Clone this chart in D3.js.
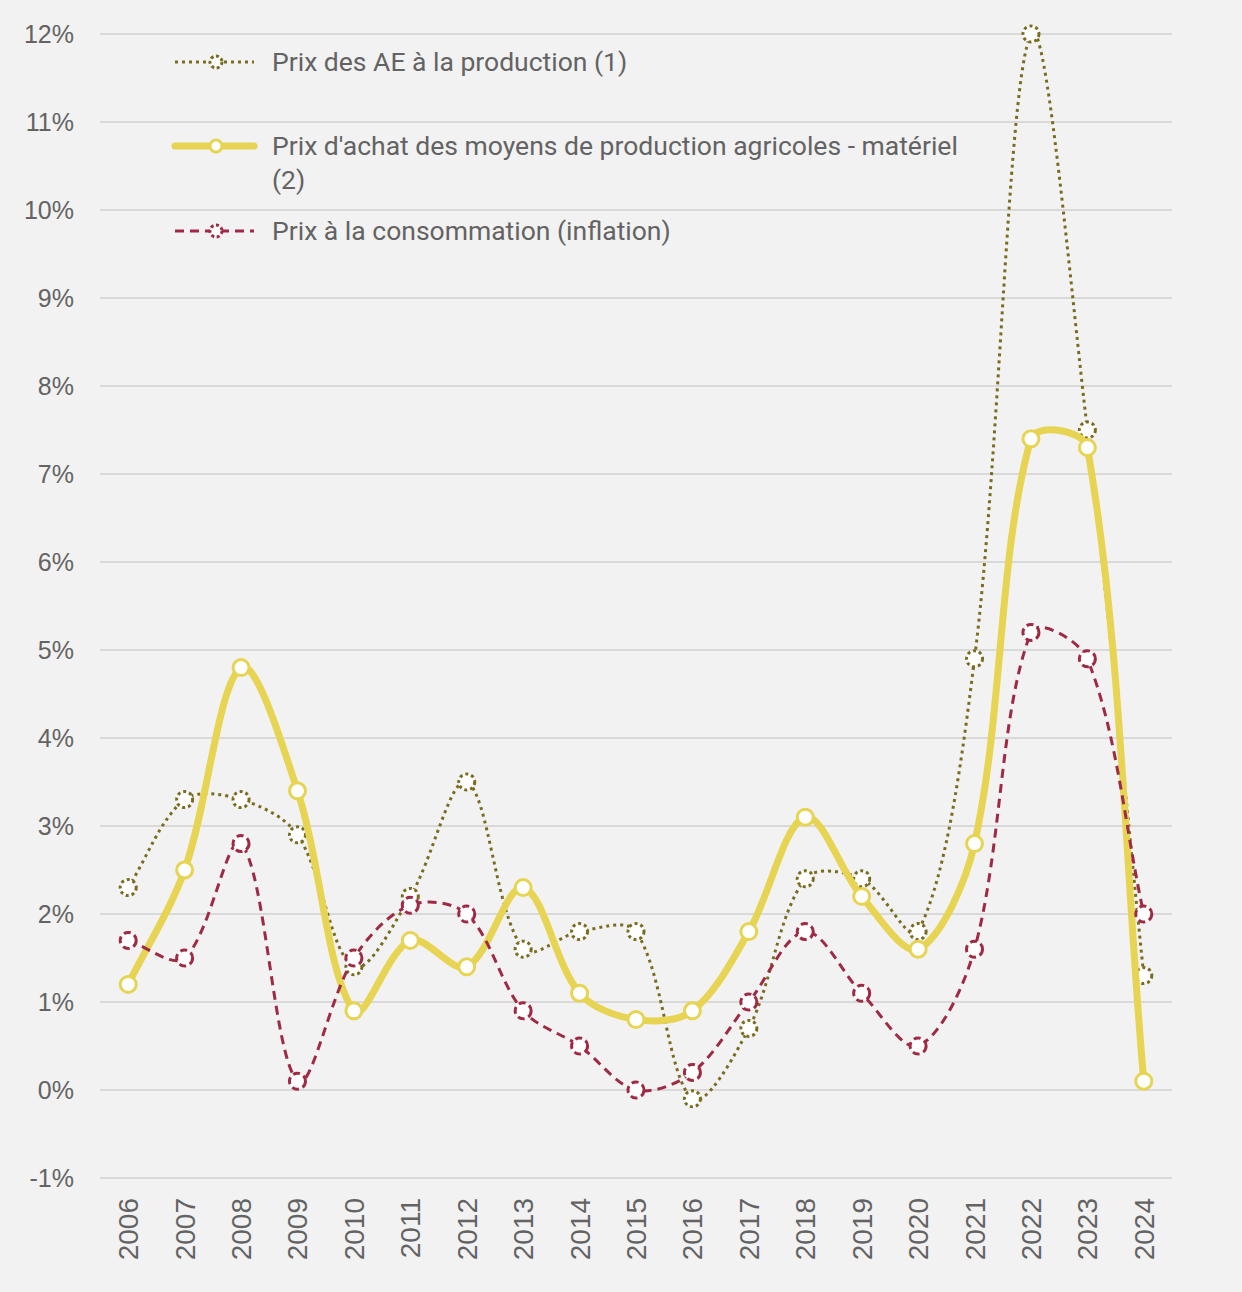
<!DOCTYPE html>
<html>
<head>
<meta charset="utf-8">
<script src="https://cdn.jsdelivr.net/npm/d3@7"></script>
<style>
  html, body { margin: 0; padding: 0; background: #f2f2f2; }
  svg { display: block; }
</style>
</head>
<body>
<div id="chart"></div>
<script>
// data (values in %)
const years = ["2006","2007","2008","2009","2010","2011","2012","2013","2014","2015",
               "2016","2017","2018","2019","2020","2021","2022","2023","2024"];
const prixAE =       [2.3, 3.3, 3.3, 2.9, 1.4, 2.2, 3.5, 1.6, 1.8, 1.8, -0.1, 0.7, 2.4, 2.4, 1.8, 4.9, 12.0, 7.5, 1.3];
const prixMateriel = [1.2, 2.5, 4.8, 3.4, 0.9, 1.7, 1.4, 2.3, 1.1, 0.8, 0.9, 1.8, 3.1, 2.2, 1.6, 2.8, 7.4, 7.3, 0.1];
const prixConso =    [1.7, 1.5, 2.8, 0.1, 1.5, 2.1, 2.0, 0.9, 0.5, 0.0, 0.2, 1.0, 1.8, 1.1, 0.5, 1.6, 5.2, 4.9, 2.0];
const yTicks = [-1,0,1,2,3,4,5,6,7,8,9,10,11,12];

const seriesNames = [
  ["Prix des AE à la production (1)"],
  ["Prix d'achat des moyens de production agricoles - matériel", "(2)"],
  ["Prix à la consommation (inflation)"]
];

const W = 1242, H = 1292;
const textColor = "#636363";

const svg = d3.select("#chart").append("svg")
  .attr("width", W).attr("height", H);

svg.append("rect").attr("width", W).attr("height", H).attr("fill", "#f2f2f2");

// scales
const x = d3.scaleBand().domain(years).range([100, 1172]);
const cx = d => x(d) + x.bandwidth() / 2;
const y = d3.scaleLinear().domain([-1, 12]).range([1178, 34]);

// gridlines
svg.append("g")
  .selectAll("line")
  .data(yTicks)
  .join("line")
    .attr("x1", 100).attr("x2", 1172)
    .attr("y1", d => y(d)).attr("y2", d => y(d))
    .attr("stroke", "#d9d9d9")
    .attr("stroke-width", 2);

// y labels
svg.append("g")
  .selectAll("text")
  .data(yTicks)
  .join("text")
    .attr("x", 74)
    .attr("y", d => y(d))
    .attr("dy", "0.35em")
    .attr("text-anchor", "end")
    .attr("font-family", "'Liberation Sans', Arial, sans-serif")
    .attr("font-size", 25)
    .attr("fill", textColor)
    .text(d => d + "%");

// x labels, rotated
svg.append("g")
  .selectAll("text")
  .data(years)
  .join("text")
    .attr("transform", d => `translate(${cx(d) + 10},1198) rotate(-90)`)
    .attr("text-anchor", "end")
    .attr("font-family", "'Liberation Sans', Arial, sans-serif")
    .attr("font-size", 28)
    .attr("fill", textColor)
    .text(d => d);

const series = [
  { values: prixAE, color: "#7a6c1f", width: 3, dash: "3,4", mDash: "3,3", mWidth: 3 },
  { values: prixMateriel, color: "#e6d452", width: 7, dash: null, mDash: null, mWidth: 3 },
  { values: prixConso, color: "#9e2a44", width: 3, dash: "9,6", mDash: "7,4", mWidth: 3 }
];

// Excel-like smoothed line: tangent from neighbours, arms weighted by segment length
function smoothPath(values) {
  const pts = values.map((v, i) => [cx(years[i]), y(v)]);
  const n = pts.length;
  const dist = (a, b) => Math.hypot(b[0] - a[0], b[1] - a[1]);
  const arms = pts.map((p, i) => {
    const prev = pts[Math.max(i - 1, 0)], next = pts[Math.min(i + 1, n - 1)];
    const tx = next[0] - prev[0], ty = next[1] - prev[1];
    const lb = dist(prev, p), lf = dist(p, next), tot = lb + lf || 1;
    return {
      back: [-tx * lb / tot / 3, -ty * lb / tot / 3],
      fwd: [tx * lf / tot / 3, ty * lf / tot / 3]
    };
  });
  const path = d3.path();
  path.moveTo(pts[0][0], pts[0][1]);
  for (let i = 0; i < n - 1; i++) {
    const a = pts[i], b = pts[i + 1];
    path.bezierCurveTo(
      a[0] + arms[i].fwd[0], a[1] + arms[i].fwd[1],
      b[0] + arms[i + 1].back[0], b[1] + arms[i + 1].back[1],
      b[0], b[1]);
  }
  return path.toString();
}

series.forEach(s => {
  svg.append("path")
    .datum(s.values)
    .attr("fill", "none")
    .attr("stroke", s.color)
    .attr("stroke-width", s.width)
    .attr("stroke-linecap", s.dash ? "butt" : "round")
    .attr("stroke-dasharray", s.dash)
    .attr("d", smoothPath);

  svg.append("g")
    .selectAll("circle")
    .data(s.values)
    .join("circle")
      .attr("cx", (d, i) => cx(years[i]))
      .attr("cy", d => y(d))
      .attr("r", 8)
      .attr("fill", "#ffffff")
      .attr("stroke", s.color)
      .attr("stroke-width", s.mWidth)
      .attr("stroke-dasharray", s.mDash);
});

// legend
const legendY = [62, 146, 231];
const legend = svg.append("g");
series.forEach((s, i) => {
  const g = legend.append("g").attr("transform", `translate(0,${legendY[i]})`);
  g.append("line")
    .attr("x1", 175).attr("x2", 254)
    .attr("stroke", s.color)
    .attr("stroke-width", s.width)
    .attr("stroke-linecap", s.dash ? "butt" : "round")
    .attr("stroke-dasharray", s.dash);
  g.append("circle")
    .attr("cx", 216).attr("r", 6)
    .attr("fill", "#ffffff")
    .attr("stroke", s.color)
    .attr("stroke-width", s.mWidth)
    .attr("stroke-dasharray", s.mDash ? "3,2.5" : null);
  const t = g.append("text")
    .attr("x", 272)
    .attr("font-family", "Roboto, 'Noto Sans', sans-serif")
    .attr("font-size", 26.5)
    .attr("fill", textColor);
  seriesNames[i].forEach((ln, j) => {
    t.append("tspan").attr("x", 272).attr("dy", j === 0 ? "0.35em" : 34).text(ln);
  });
});
</script>
</body>
</html>
